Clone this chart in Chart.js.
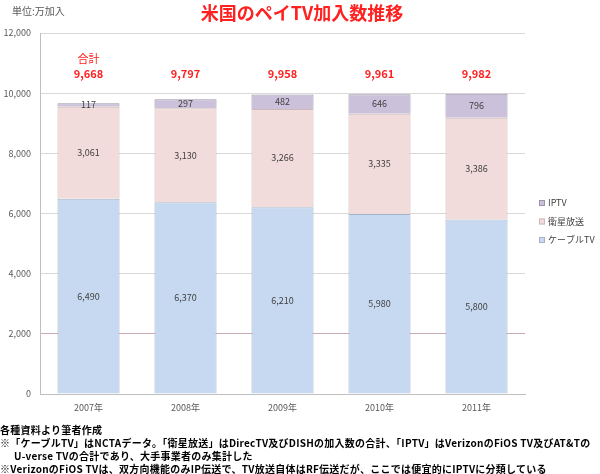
<!DOCTYPE html>
<html>
<head>
<meta charset="utf-8">
<script src="https://cdn.jsdelivr.net/npm/chart.js@4.4.0/dist/chart.umd.min.js"></script>
<style>
  body { margin: 0; background: #fff; }
  #wrap { position: relative; width: 600px; height: 474px; font-family: "Noto Sans CJK JP", sans-serif; }
  #myChart { position: absolute; left: 0; top: 0; }
  .unit { position: absolute; left: 12px; top: 3px; font-size: 10px; color: #595959; }
  .title { position: absolute; left: 0; width: 604px; top: -1px; text-align: center; font-size: 18px; font-weight: bold; color: #FF2020; }
  .notes { position: absolute; left: 0; top: 423px; font-size: 10px; font-weight: bold; color: #000; line-height: 13px; letter-spacing: 0.25px; white-space: nowrap; }
</style>
</head>
<body>
<div id="wrap">
  <canvas id="myChart" width="600" height="474"></canvas>
  <div class="unit">単位:万加入</div>
  <div class="title">米国のペイTV加入数推移</div>
  <div class="notes">
    <div>各種資料より筆者作成</div>
    <div>※「ケーブルTV」はNCTAデータ。「衛星放送」はDirecTV及びDISHの加入数の合計、「IPTV」はVerizonのFiOS TV及びAT&amp;Tの</div>
    <div style="padding-left:14px">U-verse TVの合計であり、大手事業者のみ集計した</div>
    <div>※VerizonのFiOS TVは、双方向機能のみIP伝送で、TV放送自体はRF伝送だが、ここでは便宜的にIPTVに分類している</div>
  </div>
</div>
<script>
const categories = ['2007年', '2008年', '2009年', '2010年', '2011年'];
const cableTV = [6490, 6370, 6210, 5980, 5800];
const satellite = [3061, 3130, 3266, 3335, 3386];
const iptv = [117, 297, 482, 646, 796];
const totals = [9668, 9797, 9958, 9961, 9982];

const ctx = document.getElementById('myChart');
const fmt = v => v.toLocaleString('en-US');
const FONT = '"Noto Sans CJK JP", sans-serif';

// numbers inside each bar segment
const segmentLabels = {
    id: 'segmentLabels',
    afterDatasetsDraw(chart) {
        const c = chart.ctx;
        c.save();
        c.font = '9px ' + FONT;
        c.fillStyle = '#404040';
        c.textAlign = 'center';
        c.textBaseline = 'middle';
        chart.data.datasets.forEach((ds, i) => {
            chart.getDatasetMeta(i).data.forEach((el, j) => {
                c.fillText(fmt(ds.data[j]), el.x, (el.y + el.base) / 2);
            });
        });
        c.restore();
    }
};

// red totals above the bars
const totalLabels = {
    id: 'totalLabels',
    afterDraw(chart) {
        const c = chart.ctx;
        const xs = chart.scales.x, ys = chart.scales.y;
        const y = ys.getPixelForValue(10650);
        c.save();
        c.fillStyle = '#FF2020';
        c.textAlign = 'center';
        c.textBaseline = 'middle';
        c.font = 'bold 11px ' + FONT;
        totals.forEach((t, i) => c.fillText(fmt(t), xs.getPixelForValue(i), y));
        c.font = '11px ' + FONT;
        c.fillText('合計', xs.getPixelForValue(0), y - 15);
        c.restore();
    }
};

// legend on the right, reversed order
const sideLegend = {
    id: 'sideLegend',
    afterDraw(chart) {
        const c = chart.ctx;
        const x = chart.chartArea.right + 14;
        const items = chart.data.datasets.slice().reverse();
        c.save();
        c.font = '9px ' + FONT;
        c.textBaseline = 'middle';
        items.forEach((ds, i) => {
            const y = 203 + i * 18.5;
            c.fillStyle = ds.backgroundColor;
            c.fillRect(x, y - 3, 6, 6);
            c.strokeStyle = ds.borderColor;
            c.lineWidth = 1;
            c.strokeRect(x + 0.5, y - 2.5, 5, 5);
            c.fillStyle = '#404040';
            c.fillText(ds.label, x + 9, y);
        });
        c.restore();
    }
};

new Chart(ctx, {
    type: 'bar',
    data: {
        labels: categories,
        datasets: [
            { label: 'ケーブルTV', data: cableTV, backgroundColor: '#C6D9F0', borderColor: '#A3B4C8', borderWidth: 1 },
            { label: '衛星放送', data: satellite, backgroundColor: '#F2DCDB', borderColor: '#CDB9B9', borderWidth: 1 },
            { label: 'IPTV', data: iptv, backgroundColor: '#CCC1DA', borderColor: '#9A94A8', borderWidth: 1 }
        ]
    },
    options: {
        responsive: false,
        animation: false,
        layout: { padding: { left: 0, top: 33, right: 75, bottom: 55 } },
        datasets: { bar: { categoryPercentage: 1, barPercentage: 0.64 } },
        plugins: { legend: { display: false }, tooltip: { enabled: false } },
        scales: {
            x: {
                stacked: true,
                grid: { display: false, drawTicks: false },
                border: { color: '#BFBFBF' },
                ticks: { color: '#595959', font: { family: FONT, size: 9 }, padding: 8 },
                afterFit: s => { s.height = 25; }
            },
            y: {
                stacked: true,
                min: 0, max: 12000,
                ticks: { stepSize: 2000, color: '#595959', font: { family: FONT, size: 9 }, padding: 9, callback: v => fmt(v) },
                grid: { drawTicks: false, color: c => c.tick && c.tick.value === 2000 ? '#C9A9B4' : '#D9D9D9' },
                border: { color: '#BFBFBF' },
                afterFit: s => { s.width = 40; }
            }
        }
    },
    plugins: [segmentLabels, totalLabels, sideLegend]
});
</script>
</body>
</html>
